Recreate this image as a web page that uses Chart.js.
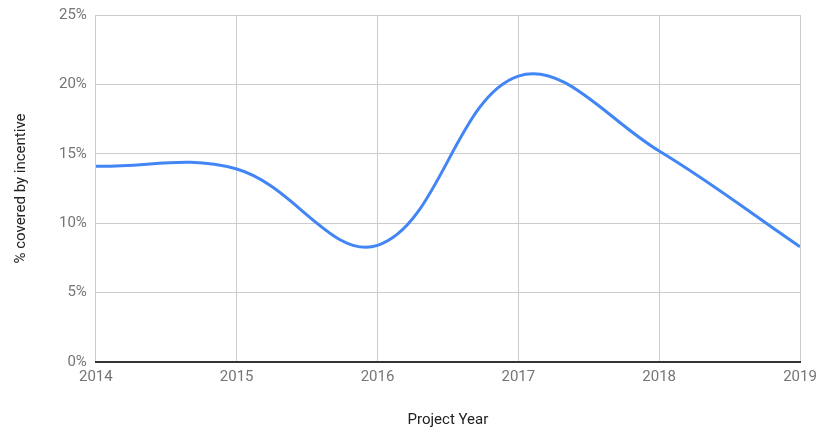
<!DOCTYPE html>
<html>
<head>
<meta charset="utf-8">
<script src="https://cdn.jsdelivr.net/npm/chart.js@4"></script>
<style>
  html, body { margin: 0; padding: 0; background: #fff; }
  #wrap { width: 818px; height: 429px; }
</style>
</head>
<body>
<div id="wrap"><canvas id="myChart"></canvas></div>
<script>
var years = [2014, 2015, 2016, 2017, 2018, 2019];
var covered = [14.1, 13.9, 8.4, 20.6, 15.2, 8.3];
var yTicks = [0, 5, 10, 15, 20, 25];

var points = years.map(function (y, i) { return { x: y, y: covered[i] }; });
var grey = "#757575";

new Chart("myChart", {
    type: "line",
    data: {
        datasets: [{
            data: points,
            borderColor: "#4285f4",
            borderWidth: 3,
            pointRadius: 0,
            tension: 0.38,
            fill: false
        }]
    },
    options: {
        responsive: true,
        maintainAspectRatio: false,
        animation: false,
        layout: { padding: { left: 12, right: 0, top: 0, bottom: 0 } },
        plugins: { legend: { display: false }, tooltip: { enabled: false } },
        scales: {
            x: {
                type: "linear",
                min: years[0],
                max: years[years.length - 1],
                afterFit: function (scale) { scale.paddingRight = 18; },
                ticks: {
                    stepSize: 1,
                    color: grey,
                    font: { family: "Roboto", size: 15 },
                    padding: 6,
                    callback: function (v) { return String(v); }
                },
                grid: { color: "#cccccc", lineWidth: 1, drawTicks: false },
                border: { color: "#333333", width: 2 },
                title: {
                    display: true,
                    text: "Project Year",
                    color: "#222",
                    font: { family: "Roboto", size: 15 },
                    padding: { top: 19, bottom: 0 }
                }
            },
            y: {
                min: yTicks[0],
                max: yTicks[yTicks.length - 1],
                afterFit: function (scale) { scale.paddingTop = 15; },
                ticks: {
                    stepSize: 5,
                    color: grey,
                    font: { family: "Roboto", size: 15 },
                    padding: 9,
                    callback: function (v) { return v + "%"; }
                },
                grid: { color: "#cccccc", lineWidth: 1, drawTicks: false },
                border: { display: false },
                title: {
                    display: true,
                    text: "% covered by incentive",
                    color: "#222",
                    font: { family: "Roboto", size: 15 },
                    padding: { top: 0, bottom: 20 }
                }
            }
        }
    }
});
</script>
</body>
</html>
